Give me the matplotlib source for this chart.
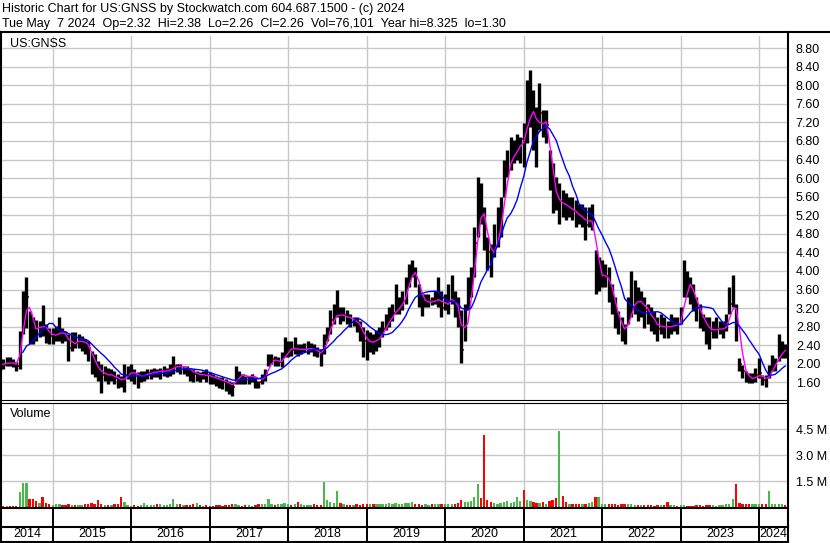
import numpy as np
import pandas as pd
import matplotlib.pyplot as plt
import matplotlib.dates as mdates
from matplotlib.lines import Line2D

plt.rcParams['font.family'] = ['Liberation Sans', 'DejaVu Sans']

# semi-monthly bars (1st / 15th), May 2014 .. May 2024
hi_2014 = [2.12, 2.10, 2.15, 2.15, 2.10, 2.05, 2.70, 3.57, 3.88, 3.14, 3.00, 2.95, 2.93, 3.27, 2.86, 2.78]
lo_2014 = [1.85, 1.90, 1.95, 1.95, 1.93, 1.85, 1.90, 2.64, 2.78, 2.43, 2.43, 2.50, 2.57, 2.60, 2.46, 2.43]
cl_2014 = [2.00, 1.98, 2.05, 2.02, 2.00, 1.95, 2.60, 3.40, 3.45, 2.80, 2.75, 2.70, 2.90, 2.80, 2.70, 2.60]

hi_2015 = [2.78, 2.82, 3.00, 2.78, 2.71, 2.64, 2.68, 2.68, 2.64, 2.60, 2.53, 2.50,
           2.28, 2.21, 2.07, 2.00, 1.96, 1.92, 1.89, 1.85, 1.78, 1.74, 2.00, 1.96]
lo_2015 = [2.43, 2.50, 2.50, 2.46, 2.50, 2.07, 2.28, 2.35, 2.35, 2.28, 2.21, 2.07,
           1.78, 1.71, 1.64, 1.38, 1.64, 1.56, 1.64, 1.56, 1.49, 1.50, 1.40, 1.67]
cl_2015 = [2.60, 2.65, 2.70, 2.65, 2.60, 2.35, 2.50, 2.45, 2.50, 2.50, 2.40, 2.35,
           2.00, 1.95, 1.85, 1.75, 1.80, 1.75, 1.75, 1.70, 1.67, 1.60, 1.75, 1.80]

hi_2016 = [2.00, 1.89, 1.82, 1.85, 1.85, 1.89, 1.89, 1.92, 1.89, 1.92, 1.96, 1.92,
           2.00, 2.17, 2.00, 2.00, 1.96, 1.96, 1.92, 1.89, 1.85, 1.82, 1.85, 1.89]
lo_2016 = [1.64, 1.56, 1.49, 1.60, 1.64, 1.67, 1.67, 1.71, 1.71, 1.67, 1.74, 1.71,
           1.74, 1.78, 1.82, 1.78, 1.78, 1.74, 1.64, 1.60, 1.64, 1.60, 1.67, 1.60]
cl_2016 = [1.85, 1.78, 1.70, 1.75, 1.77, 1.80, 1.80, 1.85, 1.82, 1.85, 1.85, 1.85,
           1.90, 1.95, 1.97, 1.92, 1.92, 1.90, 1.85, 1.78, 1.78, 1.75, 1.77, 1.75]

hi_2017 = [1.82, 1.78, 1.74, 1.71, 1.71, 1.67, 1.64, 1.60, 1.96, 1.85, 1.78, 1.74,
           1.74, 1.78, 1.71, 1.64, 1.78, 1.89, 2.21, 2.21, 2.17, 2.14, 2.25, 2.57]
lo_2017 = [1.56, 1.56, 1.53, 1.49, 1.46, 1.42, 1.35, 1.31, 1.56, 1.56, 1.56, 1.56,
           1.56, 1.60, 1.49, 1.48, 1.56, 1.64, 1.96, 2.00, 1.96, 1.96, 1.93, 2.14]
cl_2017 = [1.72, 1.70, 1.67, 1.65, 1.62, 1.60, 1.55, 1.50, 1.75, 1.78, 1.75, 1.72,
           1.72, 1.75, 1.70, 1.60, 1.72, 1.80, 2.10, 2.10, 2.05, 2.05, 2.05, 2.30]

hi_2018 = [2.50, 2.50, 2.57, 2.43, 2.43, 2.46, 2.50, 2.46, 2.43, 2.36, 2.32, 2.64,
           2.79, 3.15, 3.29, 3.59, 3.22, 3.22, 3.15, 3.08, 3.00, 3.00, 2.93, 2.79]
lo_2018 = [2.14, 2.18, 2.21, 2.18, 2.21, 2.25, 2.21, 2.25, 2.18, 2.14, 1.96, 2.21,
           2.50, 2.64, 2.86, 3.00, 2.86, 2.93, 2.86, 2.79, 2.82, 2.68, 2.50, 2.14]
cl_2018 = [2.35, 2.30, 2.35, 2.30, 2.30, 2.32, 2.33, 2.33, 2.30, 2.25, 2.15, 2.50,
           2.70, 2.95, 3.05, 3.10, 3.00, 3.05, 3.00, 2.95, 2.95, 2.85, 2.75, 2.50]

hi_2019 = [2.72, 2.68, 2.64, 2.72, 2.79, 2.93, 3.08, 3.22, 3.29, 3.72, 3.44, 3.58,
           3.87, 4.16, 4.24, 4.08, 3.72, 3.51, 3.51, 3.51, 3.44, 3.58, 3.88, 3.58]
lo_2019 = [2.08, 2.25, 2.21, 2.28, 2.36, 2.57, 2.72, 2.79, 2.93, 3.08, 3.08, 3.15,
           3.29, 3.65, 3.87, 3.65, 3.22, 3.04, 3.22, 3.22, 3.26, 3.29, 3.22, 3.00]
cl_2019 = [2.45, 2.50, 2.45, 2.55, 2.60, 2.75, 2.90, 3.00, 3.10, 3.20, 3.25, 3.35,
           3.60, 4.00, 4.05, 3.85, 3.45, 3.30, 3.35, 3.35, 3.30, 3.40, 3.45, 3.20]

hi_2020 = [3.50, 3.73, 3.91, 3.58, 3.44, 3.15, 3.29, 3.87, 4.09, 4.95, 6.03, 5.89,
           5.38, 4.74, 4.59, 5.02, 5.38, 5.60, 6.39, 6.60, 6.89, 6.82, 6.96, 6.89]
lo_2020 = [3.15, 3.08, 3.30, 3.00, 2.79, 2.02, 2.50, 3.15, 3.44, 3.87, 4.74, 5.02,
           4.45, 4.02, 3.87, 4.30, 4.52, 4.74, 5.60, 6.03, 6.17, 6.32, 6.39, 6.32]
cl_2020 = [3.30, 3.35, 3.50, 3.20, 3.05, 2.30, 3.00, 3.30, 3.85, 4.60, 5.50, 5.30,
           4.90, 4.40, 4.20, 4.60, 4.95, 5.10, 6.10, 6.30, 6.50, 6.55, 6.65, 6.85]

hi_2021 = [7.18, 8.11, 8.33, 7.90, 7.54, 8.04, 7.47, 7.47, 6.60, 6.32, 6.03, 5.89,
           5.74, 5.67, 5.60, 5.60, 5.53, 5.45, 5.45, 5.38, 5.38, 5.45, 4.45, 4.30]
lo_2021 = [6.25, 6.75, 7.10, 6.60, 6.25, 7.04, 6.89, 6.75, 5.74, 5.24, 5.31, 5.02,
           5.17, 5.10, 5.17, 5.10, 4.95, 5.02, 4.95, 4.66, 4.95, 4.88, 3.51, 3.58]
cl_2021 = [6.80, 7.50, 7.60, 7.20, 7.00, 7.40, 7.10, 7.15, 6.00, 5.70, 5.45, 5.50,
           5.45, 5.35, 5.35, 5.30, 5.20, 5.15, 5.15, 5.00, 5.10, 5.10, 3.90, 3.90]

hi_2022 = [4.23, 4.16, 4.09, 3.72, 3.43, 3.14, 3.00, 2.85, 3.43, 4.01, 3.80, 3.65,
           3.58, 3.43, 3.29, 3.22, 3.14, 3.00, 3.07, 3.00, 2.93, 3.07, 3.00, 3.00]
lo_2022 = [3.65, 3.65, 3.33, 3.07, 2.78, 2.64, 2.49, 2.42, 2.85, 3.00, 3.07, 2.93,
           3.00, 2.78, 2.85, 2.71, 2.64, 2.49, 2.64, 2.56, 2.56, 2.64, 2.71, 2.64]
cl_2022 = [3.90, 3.90, 3.70, 3.40, 3.10, 2.85, 2.75, 2.65, 3.10, 3.30, 3.40, 3.30,
           3.35, 3.15, 3.10, 2.95, 2.85, 2.75, 2.85, 2.80, 2.75, 2.85, 2.85, 2.80]

hi_2023 = [3.22, 4.23, 4.01, 3.87, 3.72, 3.43, 3.29, 3.07, 3.00, 3.00, 2.93, 3.00,
           2.93, 2.93, 3.07, 3.65, 3.91, 3.29, 2.13, 1.98, 1.84, 1.80, 1.80, 1.91]
lo_2023 = [2.85, 3.43, 3.43, 3.29, 3.14, 2.93, 2.78, 2.71, 2.42, 2.31, 2.56, 2.56,
           2.64, 2.56, 2.71, 3.07, 3.22, 2.49, 1.84, 1.69, 1.62, 1.59, 1.59, 1.62]
cl_2023 = [3.00, 3.80, 3.75, 3.60, 3.40, 3.20, 3.00, 2.90, 2.75, 2.70, 2.75, 2.75,
           2.75, 2.75, 2.85, 3.30, 3.40, 2.90, 2.00, 1.85, 1.70, 1.68, 1.68, 1.75]

hi_2024 = [2.13, 1.77, 1.77, 1.98, 2.20, 2.13, 2.64, 2.49, 2.42]
lo_2024 = [1.69, 1.55, 1.51, 1.69, 1.84, 1.84, 2.06, 2.13, 2.13]
cl_2024 = [1.80, 1.65, 1.63, 1.85, 2.00, 2.00, 2.30, 2.30, 2.26]

# volume per bar, millions of shares
vol_2014 = [0.08, 0.06, 0.05, 0.08, 0.06, 0.07, 0.85, 1.40, 1.40, 0.45, 0.45, 0.35, 0.25, 0.60, 0.25, 0.15]
vol_2015 = [0.12, 0.15, 0.18, 0.12, 0.10, 0.20, 0.12, 0.10, 0.10, 0.12, 0.15, 0.20,
            0.25, 0.15, 0.40, 0.18, 0.12, 0.10, 0.12, 0.15, 0.18, 0.55, 0.30, 0.10]
vol_2016 = [0.08, 0.10, 0.08, 0.12, 0.25, 0.10, 0.12, 0.10, 0.15, 0.18, 0.12, 0.10,
            0.15, 0.45, 0.20, 0.15, 0.12, 0.10, 0.12, 0.15, 0.25, 0.10, 0.08, 0.10]
vol_2017 = [0.08, 0.06, 0.10, 0.12, 0.08, 0.10, 0.12, 0.15, 0.18, 0.10, 0.08, 0.12,
            0.10, 0.08, 0.10, 0.15, 0.20, 0.15, 0.45, 0.15, 0.12, 0.15, 0.18, 0.25]
vol_2018 = [0.15, 0.12, 0.18, 0.30, 0.15, 0.12, 0.10, 0.12, 0.15, 0.12, 0.10, 1.45,
            0.40, 0.30, 0.25, 0.90, 0.25, 0.15, 0.12, 0.10, 0.12, 0.15, 0.12, 0.18]
vol_2019 = [0.20, 0.15, 0.18, 0.20, 0.15, 0.18, 0.20, 0.22, 0.18, 0.25, 0.18, 0.20,
            0.22, 0.25, 0.30, 0.20, 0.15, 0.12, 0.15, 0.10, 0.15, 0.20, 0.18, 0.15]
vol_2020 = [0.20, 0.15, 0.20, 0.15, 0.25, 0.40, 0.30, 0.30, 0.35, 0.60, 1.33, 0.50,
            4.15, 0.40, 0.30, 0.25, 0.20, 0.25, 0.30, 0.35, 0.25, 0.30, 0.55, 0.35]
vol_2021 = [0.98, 0.40, 0.35, 0.30, 0.25, 0.25, 0.30, 0.20, 0.35, 0.40, 0.50, 4.40,
            0.65, 0.30, 0.20, 0.18, 0.20, 0.15, 0.18, 0.20, 0.25, 0.30, 0.55, 0.55]
vol_2022 = [0.20, 0.15, 0.18, 0.20, 0.15, 0.12, 0.15, 0.18, 0.20, 0.15, 0.12, 0.10,
            0.12, 0.10, 0.12, 0.10, 0.08, 0.10, 0.12, 0.10, 0.30, 0.12, 0.10, 0.08]
vol_2023 = [0.10, 0.12, 0.08, 0.06, 0.08, 0.10, 0.12, 0.08, 0.10, 0.12, 0.10, 0.08,
            0.10, 0.12, 0.15, 0.20, 0.45, 1.33, 0.25, 0.20, 0.15, 0.18, 0.20, 0.15]
vol_2024 = [0.20, 0.15, 0.18, 0.90, 0.20, 0.15, 0.20, 0.15, 0.10]

years = ['2014', '2015', '2016', '2017', '2018', '2019', '2020', '2021', '2022', '2023', '2024']
price_ticks = [1.60, 2.00, 2.40, 2.80, 3.20, 3.60, 4.00, 4.40, 4.80, 5.20, 5.60,
               6.00, 6.40, 6.80, 7.20, 7.60, 8.00, 8.40, 8.80]
vol_ticks = [1.5, 3.0, 4.5]
vol_labels = ['1.5 M', '3.0 M', '4.5 M']

header1 = 'Historic Chart for US:GNSS by Stockwatch.com 604.687.1500 - (c) 2024'
header2 = 'Tue May  7 2024  Op=2.32  Hi=2.38  Lo=2.26  Cl=2.26  Vol=76,101  Year hi=8.325  lo=1.30'

hi = np.array(hi_2014 + hi_2015 + hi_2016 + hi_2017 + hi_2018 + hi_2019 + hi_2020 + hi_2021 + hi_2022 + hi_2023 + hi_2024)
lo = np.array(lo_2014 + lo_2015 + lo_2016 + lo_2017 + lo_2018 + lo_2019 + lo_2020 + lo_2021 + lo_2022 + lo_2023 + lo_2024)
close = np.array(cl_2014 + cl_2015 + cl_2016 + cl_2017 + cl_2018 + cl_2019 + cl_2020 + cl_2021 + cl_2022 + cl_2023 + cl_2024)
vol = np.array(vol_2014 + vol_2015 + vol_2016 + vol_2017 + vol_2018 + vol_2019 + vol_2020 + vol_2021 + vol_2022 + vol_2023 + vol_2024)

dates = pd.date_range('2014-05-01', '2024-05-01', freq='SMS')
x = mdates.date2num(dates)
step = 15.2

ma_fast = pd.Series(close).rolling(3, min_periods=1).mean()
ma_slow = pd.Series(close).rolling(10, min_periods=8).mean()

up = np.r_[True, close[1:] >= close[:-1]]
vol_colors = np.where(up, '#4cb84c', '#ff0000')

W, H = 830, 543
fig = plt.figure(figsize=(W / 100, H / 100), dpi=100)

def box(left, top, right, bottom):
    return [left / W, 1 - bottom / H, (right - left) / W, (bottom - top) / H]

xmin = mdates.date2num(pd.Timestamp('2014-05-10'))
xmax = mdates.date2num(pd.Timestamp('2024-05-12'))
year_starts = mdates.date2num(pd.to_datetime([y + '-01-01' for y in years[1:]]))
grid_col = '#c8c8c8'

# price panel
ax = fig.add_axes(box(2, 36, 787.5, 399.5))
ax.vlines(x, lo, hi, color='black', lw=2.4, zorder=3)
ax.hlines(close, x + 0.45 * step, x + 0.75 * step, color='red', lw=1.4, zorder=2)
ax.plot(x, ma_fast, color='#ff00ff', lw=1.0, zorder=4)
ax.plot(x, ma_slow, color='#0000ff', lw=1.0, zorder=4)
ax.set_xlim(xmin, xmax)
ax.set_ylim(1.233, 9.06)
ax.set_yticks(price_ticks)
ax.set_yticklabels(['%.2f' % t for t in price_ticks])
ax.set_xticks(year_starts)
ax.set_xticklabels([])
ax.yaxis.tick_right()
ax.tick_params(axis='y', length=0, pad=6, labelsize=9)
ax.tick_params(axis='x', length=0)
ax.grid(True, color=grid_col, lw=1, zorder=0)
ax.set_axisbelow(True)
for s in ax.spines.values():
    s.set_visible(False)
ax.text(8 / 786, 1 - 2 / 363, 'US:GNSS', transform=ax.transAxes, fontsize=9, va='top', ha='left')

# volume panel
av = fig.add_axes(box(2, 403, 787.5, 507))
av.bar(x, vol, width=11, color=vol_colors, zorder=3)
av.set_xlim(xmin, xmax)
av.set_ylim(0, 6.0)
av.set_yticks(vol_ticks)
av.set_yticklabels(vol_labels)
av.set_xticks(year_starts)
av.set_xticklabels([])
av.yaxis.tick_right()
av.tick_params(axis='y', length=0, pad=6, labelsize=9)
av.tick_params(axis='x', length=0)
av.grid(True, color=grid_col, lw=1, zorder=0)
av.set_axisbelow(True)
for s in av.spines.values():
    s.set_visible(False)
av.text(8 / 786, 1 - 5 / 104, 'Volume', transform=av.transAxes, fontsize=9, va='top', ha='left')

# year strip
ay = fig.add_axes(box(2, 508, 787.5, 541))
ay.set_xlim(xmin, xmax)
ay.set_ylim(0, 1)
ay.axis('off')
ay.vlines(year_starts, 0, 1, color='black', lw=1.4)
edges = np.r_[xmin, year_starts, xmax]
for i, y in enumerate(years):
    ay.text((edges[i] + edges[i + 1]) / 2, 0.2, y, ha='center', va='center', fontsize=9)

# frame lines, in pixels
def pline(x0, y0, x1, y1, lw):
    fig.add_artist(Line2D([x0 / W, x1 / W], [1 - y0 / H, 1 - y1 / H], color='black', lw=lw, transform=fig.transFigure))

pline(0, 32, W, 32, 1.5)
pline(1, 32, 1, H, 1.5)
pline(788, 32, 788, H, 1.5)
pline(0, 400, 788, 400, 0.8)
pline(0, 402.5, 788, 402.5, 0.8)
pline(0, 508, 788, 508, 1.5)
pline(0, 526.5, 788, 526.5, 1.5)
pline(0, 541.5, 788, 541.5, 1.5)

fig.text(2 / W, 1 - 9 / H, header1, fontsize=9, va='center', ha='left')
fig.text(2 / W, 1 - 24 / H, header2, fontsize=9, va='center', ha='left')

fig.savefig('out.png', dpi=100)
